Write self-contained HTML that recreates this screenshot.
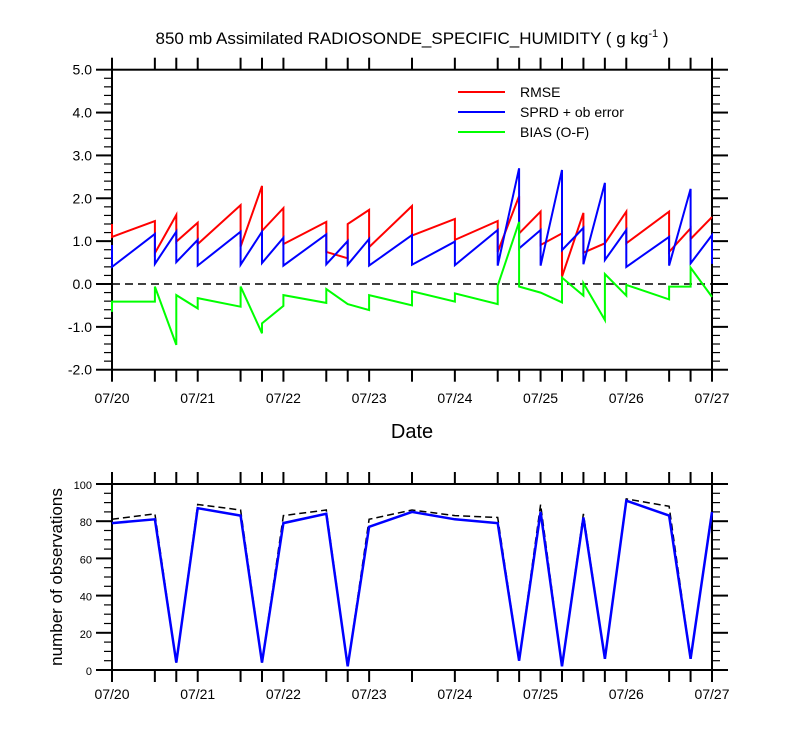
<!DOCTYPE html>
<html><head><meta charset="utf-8"><style>
body{margin:0;background:#fff}
svg{display:block;font-family:"Liberation Sans",sans-serif}
</style></head><body>
<svg id="chart" width="800" height="750" xmlns="http://www.w3.org/2000/svg">
<text x="412" y="44" text-anchor="middle" font-size="17">850 mb Assimilated RADIOSONDE_SPECIFIC_HUMIDITY ( g kg<tspan dy="-7" font-size="11">-1</tspan><tspan dy="7"> )</tspan></text>
<g id="topPanel"></g>
<g id="botPanel"></g>
<text x="412" y="438" text-anchor="middle" font-size="20">Date</text>
<text transform="translate(62,577) rotate(-90)" text-anchor="middle" font-size="17">number of observations</text>
<g>
<line x1="458" y1="92" x2="505" y2="92" stroke="#ff0000" stroke-width="2"/>
<text x="520" y="97" font-size="14">RMSE</text>
<line x1="458" y1="112" x2="505" y2="112" stroke="#0000ff" stroke-width="2"/>
<text x="520" y="117" font-size="14">SPRD + ob error</text>
<line x1="458" y1="132" x2="505" y2="132" stroke="#00ff00" stroke-width="2"/>
<text x="520" y="137" font-size="14">BIAS (O-F)</text>
</g>
</svg>
<script>
const dateLabels=["07/20","07/21","07/22","07/23","07/24","07/25","07/26","07/27"];
const tickTimes=[0,0.5,0.75,1,1.5,1.75,2,2.5,2.75,3,3.5,4,4.5,4.75,5,5.25,5.5,5.75,6,6.5,6.75,7];
const rmseT=[0,0,0.5,0.5,0.75,0.75,1,1,1.5,1.5,1.75,1.75,2,2,2.5,2.5,2.75,2.75,3,3,3.5,3.5,4,4,4.5,4.5,4.75,4.75,5,5,5.25,5.25,5.5,5.5,5.75,6,6,6.5,6.5,6.75,6.75,7];
const rmseV=[1.4,1.1,1.47,0.72,1.61,0.99,1.43,0.93,1.84,0.87,2.29,1.24,1.77,0.93,1.45,0.75,0.6,1.4,1.73,0.86,1.82,1.13,1.52,1.03,1.47,0.75,2.05,1.18,1.69,0.91,1.18,0.17,1.66,0.73,0.95,1.69,0.95,1.69,0.75,1.3,1.05,1.56];
const sprdT=[0,0,0.5,0.5,0.75,0.75,1,1,1.5,1.5,1.75,1.75,2,2,2.5,2.5,2.75,2.75,3,3,3.5,3.5,4,4,4.5,4.5,4.75,4.75,5,5,5.25,5.25,5.5,5.5,5.75,5.75,6,6,6.5,6.5,6.75,6.75,7,7];
const sprdV=[0.91,0.4,1.17,0.47,1.22,0.51,1.03,0.43,1.22,0.45,1.22,0.49,1.08,0.43,1.16,0.46,1.0,0.45,1.05,0.43,1.14,0.45,0.99,0.44,1.26,0.43,2.70,0.83,1.26,0.43,2.66,0.79,1.31,0.46,2.36,0.56,1.26,0.40,1.1,0.43,2.22,0.48,1.14,0.47];
const biasT=[0,0,0.5,0.5,0.75,0.75,1,1,1.5,1.5,1.75,1.75,2,2,2.5,2.5,2.75,3,3,3.5,3.5,4,4,4.5,4.5,4.75,4.75,5,5.25,5.25,5.5,5.5,5.75,5.75,6,6,6.5,6.5,6.75,6.75,7];
const biasV=[-0.65,-0.41,-0.41,-0.06,-1.42,-0.26,-0.57,-0.33,-0.53,-0.06,-1.15,-0.92,-0.51,-0.26,-0.44,-0.12,-0.47,-0.61,-0.26,-0.5,-0.17,-0.41,-0.22,-0.47,-0.04,1.45,-0.06,-0.2,-0.43,0.15,-0.27,0.02,-0.84,0.23,-0.27,-0.02,-0.36,-0.06,-0.06,0.38,-0.3];
const obsUsed=[79,81,4,87,83,4,79,84,2,77,85,81,79,5,85,2,82,6,91,83,6,85];
const obsPoss=[81,84,4,89,86,4,83,86,2,81,86,83,82,5,89,2,84,6,92,88,6,86];
const topTicks=[5,4,3,2,1,0,-1,-2];
const botTicks=[0,20,40,60,80,100];

const NS="http://www.w3.org/2000/svg";
function mk(p,tag,attrs){const e=document.createElementNS(NS,tag);for(const k in attrs)e.setAttribute(k,attrs[k]);p.appendChild(e);return e;}
const X0=112,X1=712;
const xs=t=>X0+(X1-X0)*t/7;
const yTop=v=>284-v*42.86;
const yBot=v=>670-v*1.86;

function axes(g,yT,yB,yf,ymin,ymax,major,minor,labels,fmt,ylabFont,xlabY,panel){
  const box=mk(g,'rect',{x:X0,y:yT,width:X1-X0,height:yB-yT,fill:'none',stroke:'#000','stroke-width':2});
  
  
  const n=Math.round((ymax-ymin)/minor);
  for(let i=0;i<=n;i++){
    const v=ymin+i*minor;
    const isMaj=Math.abs(v/major-Math.round(v/major))<1e-6;
    const L=isMaj?16:8;
    mk(g,'line',{x1:X0,y1:yf(v),x2:X0-L,y2:yf(v),stroke:'#000','stroke-width':isMaj?2:1.2});
    mk(g,'line',{x1:X1,y1:yf(v),x2:X1+L,y2:yf(v),stroke:'#000','stroke-width':isMaj?2:1.2});
  }
  labels.forEach(v=>{
    const t=mk(g,'text',{x:X0-20,y:yf(v)+5,'text-anchor':'end','font-size':ylabFont});
    t.textContent=fmt(v);
    
    
  });
  tickTimes.forEach(tt=>{
    mk(g,'line',{x1:xs(tt),y1:yT,x2:xs(tt),y2:yT-12,stroke:'#000','stroke-width':2});
    mk(g,'line',{x1:xs(tt),y1:yB,x2:xs(tt),y2:yB+12,stroke:'#000','stroke-width':2});
  });
  dateLabels.forEach((d,i)=>{
    const t=mk(g,'text',{x:xs(i),y:xlabY,'text-anchor':'middle','font-size':14});
    t.textContent=d;
    
    
  });
}
function drawLine(g,T,V,yf,color,w,dash,name){
  const d=T.map((t,i)=>(i?'L':'M')+xs(t).toFixed(1)+','+yf(V[i]).toFixed(1)).join('');
  const p=mk(g,'path',{d:d,fill:'none',stroke:color,'stroke-width':w,'stroke-linejoin':'miter'});
  if(dash)p.setAttribute('stroke-dasharray',dash);
  
  
}
const topG=document.getElementById('topPanel');
axes(topG,yTop(5),yTop(-2),yTop,-2,5,1,0.2,topTicks,v=>v.toFixed(1),14,403,'top');
const zl=mk(topG,'line',{x1:X0,y1:yTop(0),x2:X1,y2:yTop(0),stroke:'#000','stroke-width':1.6,'stroke-dasharray':'8,5'});


drawLine(topG,rmseT,rmseV,yTop,'#ff0000',2,null,'rmse-line');
drawLine(topG,sprdT,sprdV,yTop,'#0000ff',2,null,'sprd-line');
drawLine(topG,biasT,biasV,yTop,'#00ff00',2,null,'bias-line');

const botG=document.getElementById('botPanel');
axes(botG,yBot(100),yBot(0),yBot,0,100,20,5,botTicks,v=>String(v),11,699,'bottom');
drawLine(botG,tickTimes,obsPoss,yBot,'#000',1.5,'7,4','obs-possible-line');
drawLine(botG,tickTimes,obsUsed,yBot,'#0000ff',2.5,null,'obs-used-line');
</script>
</body></html>
